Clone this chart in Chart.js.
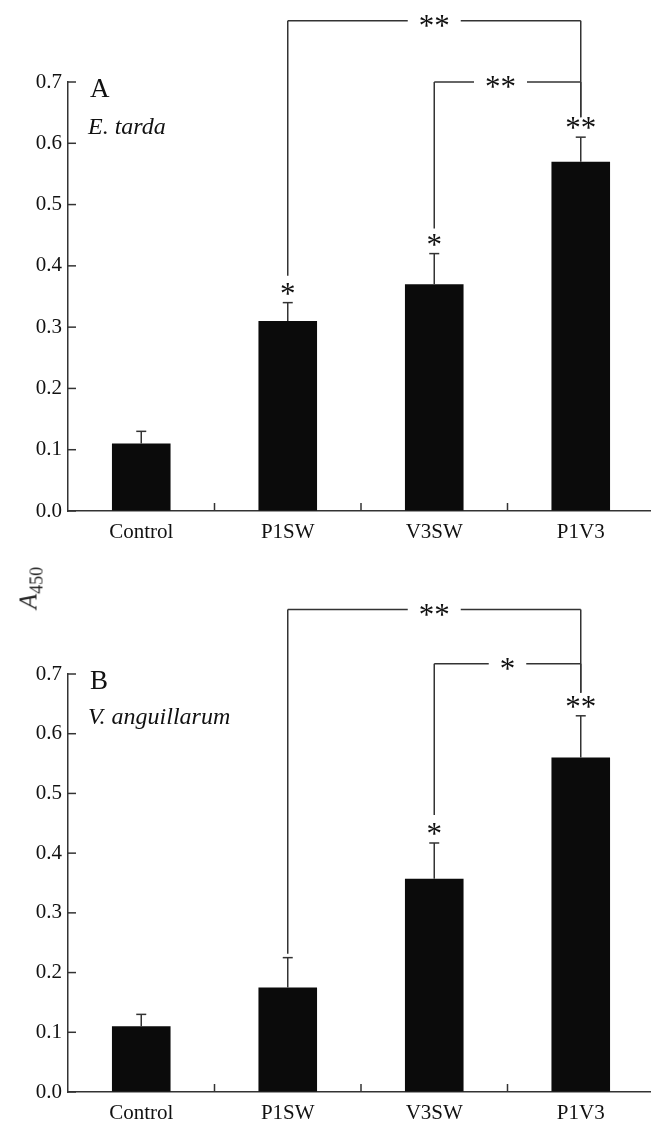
<!DOCTYPE html>
<html>
<head>
<meta charset="utf-8">
<script src="https://cdn.jsdelivr.net/npm/chart.js@4/dist/chart.umd.min.js"></script>
<style>
    html, body { margin: 0; padding: 0; background: #fff; width: 651px; height: 1124px; overflow: hidden; }
    .panel { position: absolute; left: 0; }
    #panel-a { top: 0; }
    #panel-b { top: 545px; }
    #y-title {
        position: absolute; left: 31px; top: 588px;
        transform: translate(-50%, -50%) rotate(-90deg);
        font-family: 'Liberation Serif', serif; font-size: 25px; color: #222; white-space: nowrap;
    }
    #y-title sub { font-size: 18px; font-style: normal; }
</style>
</head>
<body>
<div class="panel" id="panel-a"><canvas id="chart-a" width="660" height="545"></canvas></div>
<div class="panel" id="panel-b"><canvas id="chart-b" width="660" height="579"></canvas></div>
<div id="y-title"><i>A</i><sub>450</sub></div>

<script>
const groups = ['Control', 'P1SW', 'V3SW', 'P1V3'];
const yTicks = [0, 0.1, 0.2, 0.3, 0.4, 0.5, 0.6, 0.7];

// panel A: E. tarda
const meanA = [0.11, 0.31, 0.37, 0.57];
const errA = [0.02, 0.03, 0.05, 0.04];
const starsA = ['', '*', '*', '**'];

// panel B: V. anguillarum
const meanB = [0.11, 0.175, 0.357, 0.56];
const errB = [0.02, 0.05, 0.06, 0.07];
const starsB = ['', '', '*', '**'];

const serif = "'Liberation Serif', 'Times New Roman', serif";
const ink = '#333';

// annotation setup per canvas (kept outside chart options so Chart.js does not resolve it)
const panels = {
    'chart-a': {
        letter: 'A',
        species: 'E. tarda',
        errors: errA,
        stars: starsA,
        brackets: [
            { from: 1, to: 3, level: 0.80, label: '**', drop: [27, 20], dx: 0 },
            { from: 2, to: 3, level: 0.70, label: '**', drop: [25, 20], dx: -7 }
        ]
    },
    'chart-b': {
        letter: 'B',
        species: 'V. anguillarum',
        errors: errB,
        stars: starsB,
        brackets: [
            { from: 1, to: 3, level: 0.808, label: '**', drop: [4, 23], dx: 0 },
            { from: 2, to: 3, level: 0.717, label: '*', drop: [28, 23], dx: 0 }
        ]
    }
};

function line(ctx, x1, y1, x2, y2) {
    ctx.beginPath();
    ctx.moveTo(x1, y1);
    ctx.lineTo(x2, y2);
    ctx.stroke();
}

// draw text so that the glyph's visual centre sits at (x, y)
function centredText(ctx, text, x, y) {
    const m = ctx.measureText(text);
    ctx.fillText(text, x, y + (m.actualBoundingBoxAscent - m.actualBoundingBoxDescent) / 2);
}

const overlay = {
    id: 'overlay',
    afterDatasetsDraw(chart) {
        const p = panels[chart.canvas.id];
        const { ctx, chartArea: a, scales: { x, y } } = chart;
        const means = chart.data.datasets[0].data;
        ctx.save();
        ctx.strokeStyle = ink;
        ctx.fillStyle = '#111';
        ctx.lineWidth = 1.5;

        // inward ticks
        y.ticks.forEach(t => {
            const py = y.getPixelForValue(t.value);
            line(ctx, a.left, py, a.left + 8, py);
        });
        for (let i = 1; i < groups.length; i++) {
            const px = (x.getPixelForValue(i - 1) + x.getPixelForValue(i)) / 2;
            line(ctx, px, a.bottom, px, a.bottom - 8);
        }

        // upper error bars
        const capY = [];
        means.forEach((m, i) => {
            const px = x.getPixelForValue(i);
            const top = y.getPixelForValue(m + p.errors[i]);
            line(ctx, px, y.getPixelForValue(m), px, top);
            line(ctx, px - 5, top, px + 5, top);
            capY.push(top);
        });

        // stars over bars
        ctx.textAlign = 'center';
        ctx.font = '31px ' + serif;
        p.stars.forEach((s, i) => {
            if (s) centredText(ctx, s, x.getPixelForValue(i), capY[i] - 14);
        });

        // comparison brackets
        p.brackets.forEach(b => {
            const x1 = x.getPixelForValue(b.from);
            const x2 = x.getPixelForValue(b.to);
            const py = y.getPixelForValue(b.level);
            const mid = (x1 + x2) / 2 + b.dx;
            const half = ctx.measureText(b.label).width / 2 + 11;
            line(ctx, x1, py, mid - half, py);
            line(ctx, mid + half, py, x2, py);
            line(ctx, x1, py, x1, capY[b.from] - b.drop[0]);
            line(ctx, x2, py, x2, capY[b.to] - b.drop[1]);
            centredText(ctx, b.label, mid, py);
        });

        // panel letter and species
        ctx.textAlign = 'left';
        ctx.font = '27px ' + serif;
        centredText(ctx, p.letter, a.left + 22, a.top + 6);
        ctx.font = 'italic 24px ' + serif;
        centredText(ctx, p.species, a.left + 20, a.top + 44);
        ctx.restore();
    }
};

function makeChart(id, means, padTop, xHeight) {
    const ctx = document.getElementById(id).getContext('2d');
    return new Chart(ctx, {
        type: 'bar',
        data: {
            labels: groups,
            datasets: [{
                data: means,
                backgroundColor: '#0b0b0b',
                borderWidth: 0,
                barPercentage: 0.4,
                categoryPercentage: 1
            }]
        },
        plugins: [overlay],
        options: {
            responsive: false,
            animation: false,
            events: [],
            layout: { padding: { top: padTop, right: 6, left: 0, bottom: 0 } },
            plugins: {
                legend: { display: false },
                tooltip: { enabled: false }
            },
            scales: {
                x: {
                    grid: { drawOnChartArea: false, drawTicks: false },
                    border: { display: true, color: ink, width: 1.5 },
                    ticks: { color: '#111', font: { family: serif, size: 21 }, padding: 9 },
                    afterFit: s => { s.height = xHeight; }
                },
                y: {
                    min: 0,
                    max: 0.7,
                    afterBuildTicks: s => { s.ticks = yTicks.map(v => ({ value: v })); },
                    grid: { drawOnChartArea: false, drawTicks: false },
                    border: { display: true, color: ink, width: 1.5 },
                    ticks: {
                        color: '#111',
                        font: { family: serif, size: 21 },
                        padding: 6,
                        callback: v => v.toFixed(1)
                    },
                    afterFit: s => { s.width = 68; }
                }
            }
        }
    });
}

makeChart('chart-a', meanA, 82, 34);
makeChart('chart-b', meanB, 129, 32);
</script>
</body>
</html>
